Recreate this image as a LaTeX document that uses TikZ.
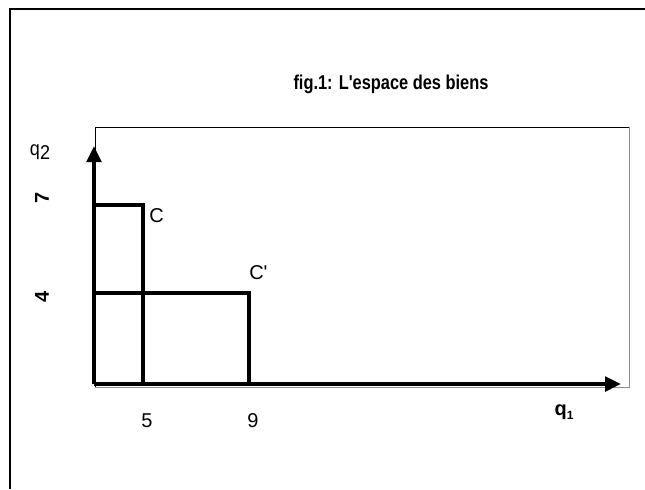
\documentclass[tikz,border=0pt]{standalone}
\usepackage{fontspec}
\setmainfont{Liberation Sans}
\usetikzlibrary{arrows.meta}

\tikzset{
  axis/.style={line width=2.6pt, -{Triangle[length=12pt, width=11pt]}},
  bundle/.style={line width=2.6pt},
  lbl/.style={inner sep=0pt, font=\fontsize{15}{17}\selectfont},
  tick/.style={lbl, font=\fontsize{15}{17}\selectfont\bfseries, rotate=90}
}

\begin{document}
\begin{tikzpicture}[x=0.75pt, y=-0.75pt]
  \useasboundingbox (0,0) rectangle (645,489);

  % === FRAMES ===
  \draw[line width=1.6pt] (10,489) -- (10,9) -- (645,9);
  \draw[line width=0.7pt] (629,127) -- (95,127) -- (95,387);
  \draw[line width=0.7pt, black!45] (629,127) -- (629,387) -- (95,387);

  % Title
  \node[lbl, xscale=0.82, font=\fontsize{15}{17}\selectfont\bfseries] (title)
    at (391,84) {fig.1: L\textquotesingle espace des biens};

  % === AXES ===
  \coordinate (O) at (94,384);
  \coordinate (xend) at (621,384);
  \coordinate (yend) at (94,146);
  \draw[axis] (O) -- (xend);
  \draw[axis] (O) -- (yend);
  \node[lbl, xscale=0.9] (q2) at (40,152) {q\raisebox{-3pt}{2}};
  \node[lbl, font=\fontsize{15}{17}\selectfont\bfseries] (q1) at (564,412)
    {q\raisebox{-3pt}{\fontsize{9}{10}\selectfont 1}};

  % === BUNDLES C AND C' ===
  \coordinate (C) at (143,205);
  \coordinate (Cp) at (249,293);
  \draw[bundle] (O |- C) -- (C) -- (C |- O);
  \draw[bundle] (O |- Cp) -- (Cp) -- (Cp |- O);
  \node[lbl, anchor=north west] (c) at (149,208) {C};
  \node[lbl, anchor=south west] (cp) at (249,280) {C\textquotesingle};

  % Tick values
  \node[tick] (t7) at (42,198) {7};
  \node[tick] (t4) at (42,297) {4};
  \node[lbl] (t5) at (147,421) {5};
  \node[lbl] (t9) at (253,421) {9};

\end{tikzpicture}
\end{document}
